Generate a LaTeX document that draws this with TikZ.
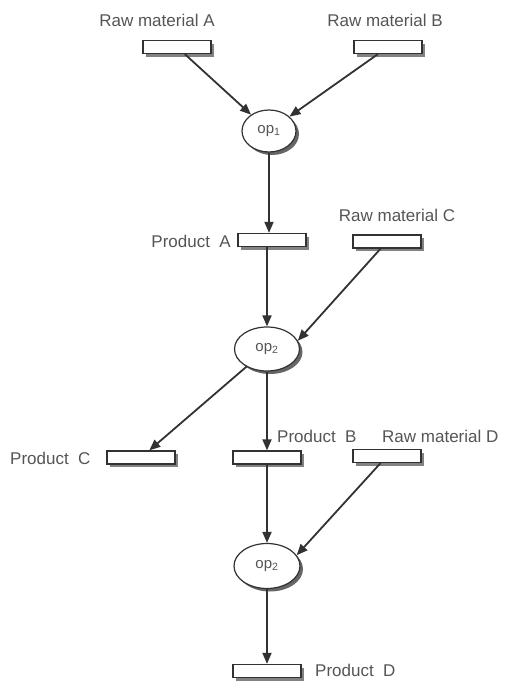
\documentclass[tikz,border=0pt]{standalone}
\usepackage{fontspec}
\setmainfont{Liberation Sans}
\usetikzlibrary{arrows.meta,shapes.geometric,shadows}
\definecolor{ink}{RGB}{50,50,50}
\definecolor{txt}{RGB}{85,85,85}
\definecolor{shade}{RGB}{130,130,130}
\begin{document}
\begin{tikzpicture}[x=1pt,y=-1pt,
  place/.style={draw=ink, line width=1.3pt, fill=white, rectangle,
    minimum width=68pt, minimum height=13pt, inner sep=0pt,
    drop shadow={shadow xshift=3pt, shadow yshift=-3pt, fill=shade, opacity=1}},
  oper/.style={draw=ink, line width=1.2pt, fill=white, ellipse, inner sep=0pt,
    font=\fontsize{15}{15}\selectfont, text=txt,
    drop shadow={shadow xshift=3pt, shadow yshift=-3pt, fill=black!60, opacity=1}},
  lbl/.style={font=\fontsize{17}{17}\selectfont, text=txt, inner sep=0pt},
  flow/.style={draw=ink, line width=1.8pt, -{Triangle[length=11pt,width=9pt]}}]
\useasboundingbox (0,0) rectangle (508,683);

% places (stores of material / products)
\node[place] (rmA) at (177,47) {};
\node[place] (rmB) at (388,47) {};
\node[place] (prA) at (272,240) {};
\node[place] (rmC) at (387,241.5) {};
\node[place] (prC) at (141,457.5) {};
\node[place] (prB) at (267,457.5) {};
\node[place] (rmD) at (387,456) {};
\node[place] (prD) at (267,671) {};

% operations
\node[oper, minimum width=54pt, minimum height=42pt] (op1) at (269,131) {op\textsubscript{1}};
\node[oper, minimum width=65pt, minimum height=44pt] (op2) at (267,349) {op\textsubscript{2}};
\node[oper, minimum width=66pt, minimum height=45pt] (op3) at (267,566) {op\textsubscript{2}};

% labels
\node[lbl] (lA) at (157,20) {Raw material A};
\node[lbl] (lB) at (385,20) {Raw material B};
\node[lbl] (lC) at (397,215) {Raw material C};
\node[lbl, anchor=east] (lPA) at (231,241) {Product\ \ A};
\node[lbl, anchor=west] (lPC) at (10,458) {Product\ \ C};
\node[lbl, anchor=west] (lPB) at (277,436) {Product\ \ B};
\node[lbl, anchor=west] (lD) at (382,436) {Raw material D};
\node[lbl, anchor=west] (lPD) at (315,670) {Product\ \ D};

% flows
\draw[flow] (rmA) -- (op1);
\draw[flow] (rmB) -- (op1);
\draw[flow] (op1) -- (op1 |- prA.north);
\draw[flow] (prA.south -| op2) -- (op2);
\draw[flow] (rmC) -- (op2.15);
\draw[flow] (op2) -- (prC);
\draw[flow] (op2) -- (prB);
\draw[flow] (prB) -- (op3);
\draw[flow] (rmD) -- (op3.20);
\draw[flow] (op3) -- (prD);
\end{tikzpicture}
\end{document}
